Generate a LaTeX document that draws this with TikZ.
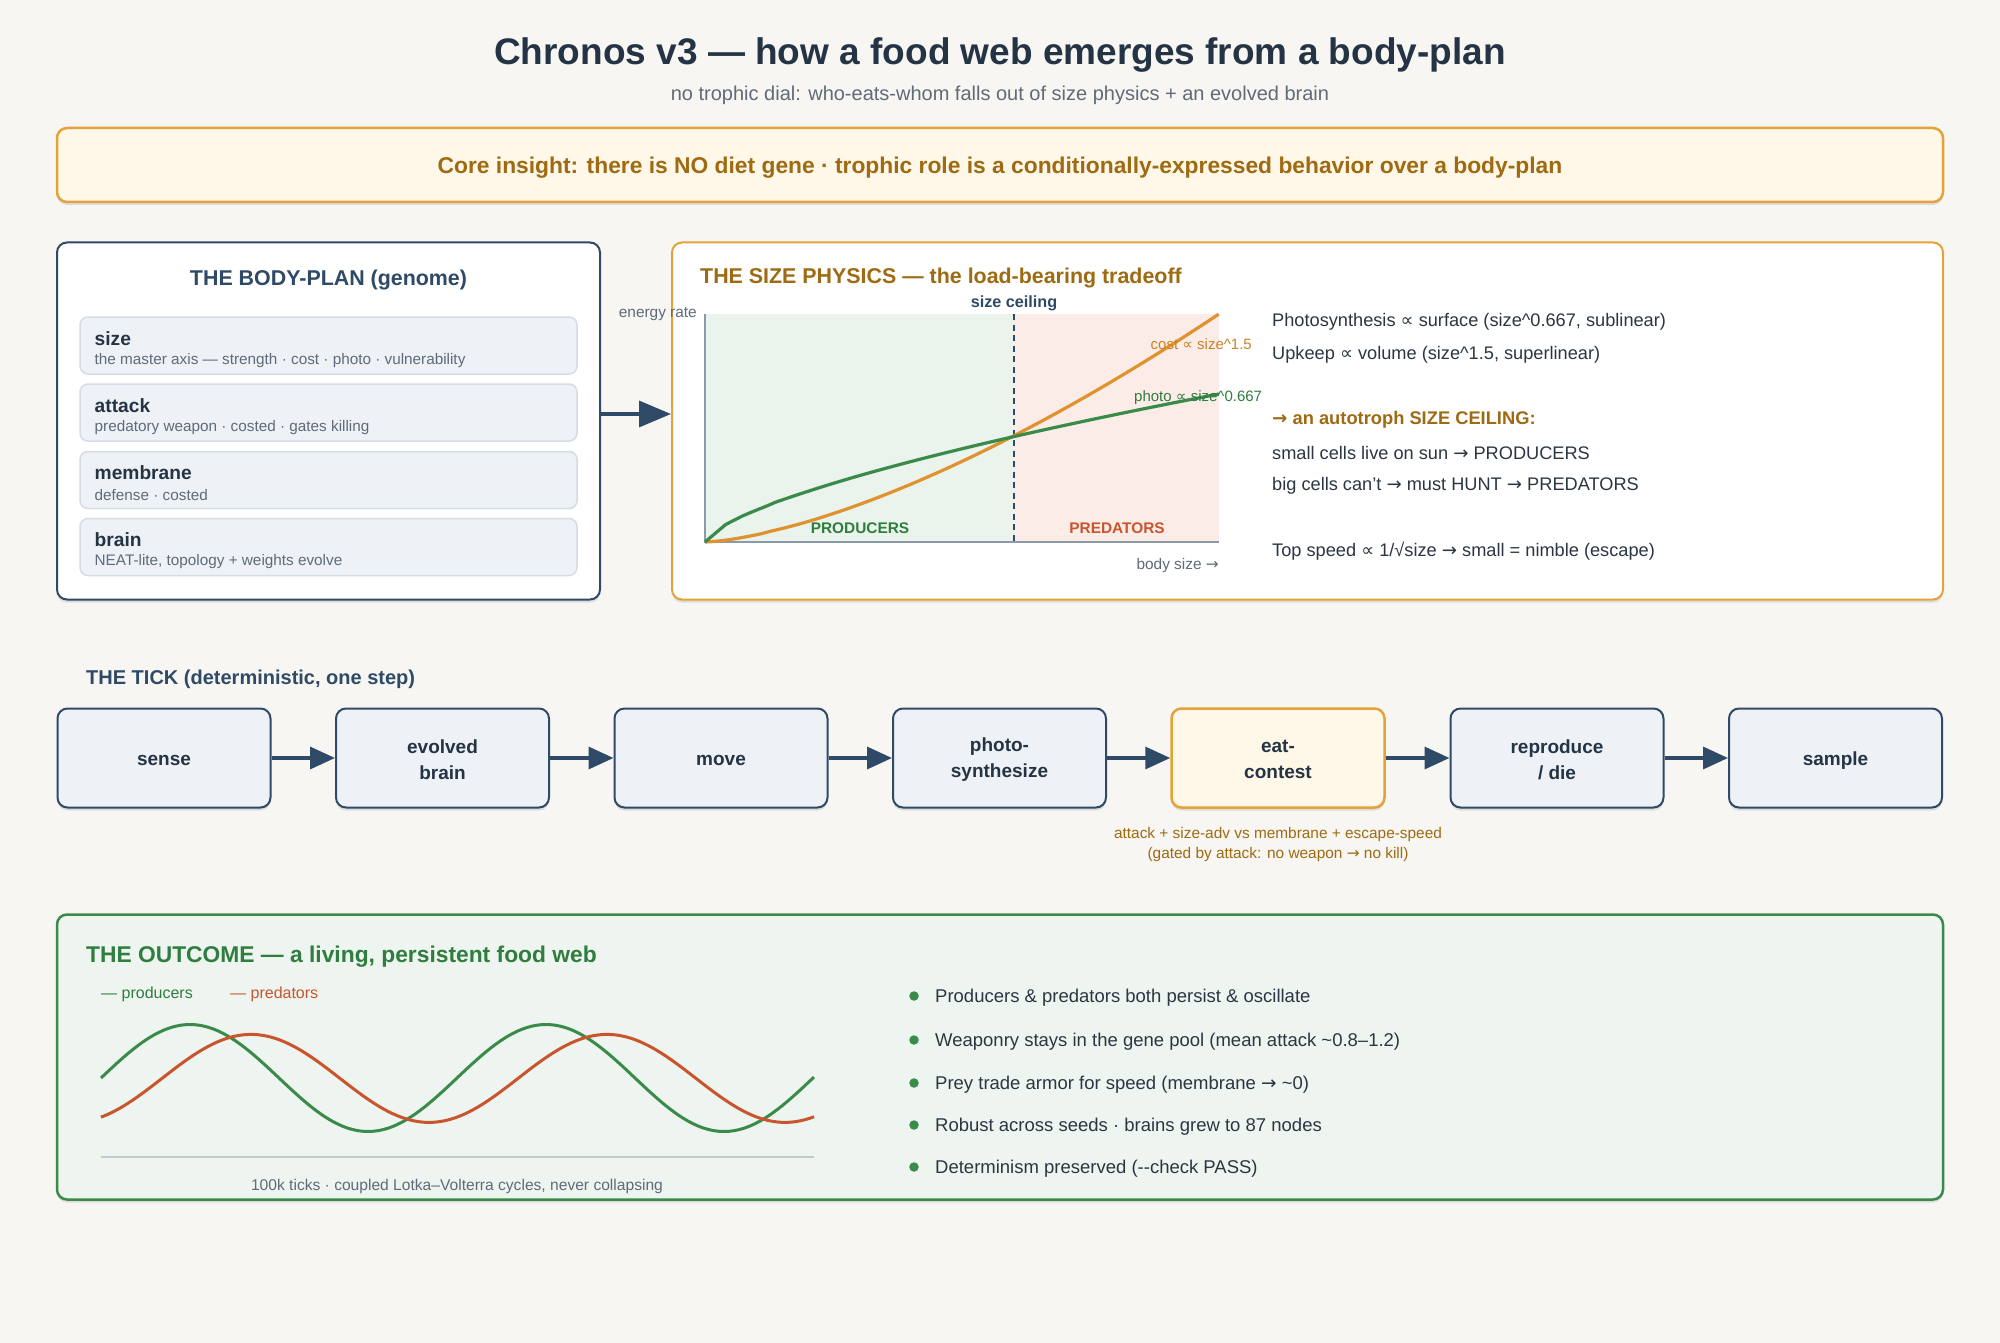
\documentclass[tikz,border=0pt]{standalone}
\usepackage{fontspec}
\setmainfont{Liberation Sans}
\newfontfamily\symf{DejaVu Sans}
\newcommand\ar{{\symf →}}
\usetikzlibrary{arrows.meta,shadows,calc}
\definecolor{bgc}{HTML}{F7F6F2}
\definecolor{ink}{HTML}{243444}
\definecolor{navy}{HTML}{2E4A66}
\definecolor{muted}{HTML}{5F6B78}
\definecolor{bodytx}{HTML}{2B3642}
\definecolor{orng}{HTML}{E3A23A}
\definecolor{ornt}{HTML}{9E6A12}
\definecolor{cream}{HTML}{FFF7E7}
\definecolor{grn}{HTML}{3A8A4A}
\definecolor{grnt}{HTML}{2F7D3F}
\definecolor{grnbg}{HTML}{EEF4EF}
\definecolor{predc}{HTML}{C8552D}
\definecolor{genef}{HTML}{EEF2F7}
\definecolor{gened}{HTML}{D4DCE6}
\definecolor{cgreen}{HTML}{EAF3EC}
\definecolor{cpink}{HTML}{FCECE7}
\definecolor{costc}{HTML}{E0922E}
\definecolor{costt}{HTML}{C98326}
\definecolor{axisc}{HTML}{8C99A8}
\definecolor{basec}{HTML}{C3C9D1}
\newcommand\fsz[2]{\fontsize{#1}{#2}\selectfont}
\begin{document}
\begin{tikzpicture}[x=1pt,y=-1pt,
  shad/.style={drop shadow={shadow xshift=0pt,shadow yshift=-3pt,opacity=0.10,fill=black}},
  panel/.style={draw=navy,line width=2pt,rounded corners=10pt,fill=white,shad,inner sep=0pt},
  gene/.style={draw=gened,line width=1.5pt,rounded corners=8pt,fill=genef,minimum width=497pt,minimum height=57pt,inner sep=0pt},
  glab/.style={anchor=west,font=\fsz{19.2}{23}\bfseries,text=ink,inner sep=0pt},
  gsub/.style={anchor=west,font=\fsz{15.3}{18},text=muted,inner sep=0pt},
  ticknode/.style={draw=navy,line width=2pt,rounded corners=10pt,fill=genef,minimum width=213pt,minimum height=99pt,shad,inner sep=0pt},
  ticklab/.style={align=center,font=\fsz{19}{26}\bfseries,text=ink,inner sep=0pt},
  tarrow/.style={draw=navy,line width=3.5pt,-{Triangle[length=25pt,width=22pt]}},
  barrow/.style={draw=navy,line width=3.5pt,-{Triangle[length=32pt,width=26pt]}},
  rtext/.style={anchor=west,font=\fsz{18.2}{22},text=bodytx,inner sep=0pt},
  btext/.style={anchor=west,font=\fsz{18.5}{22},text=bodytx,inner sep=0pt},
  bdot/.style={circle,fill=grn,inner sep=0pt,minimum size=9.5pt},
  small/.style={font=\fsz{15.4}{18},inner sep=0pt}
]
\useasboundingbox (0,0) rectangle (2000,1343);
\fill[bgc] (0,0) rectangle (2000,1343);

% ---- title
\node[font=\fsz{37}{42}\bfseries,text=ink] (title) at (1000,55) {Chronos v3 — how a food web emerges from a body-plan};
\node[font=\fsz{20}{24},text=muted] (subtitle) at (1000,95.5) {no trophic dial: who-eats-whom falls out of size physics + an evolved brain};

\node[draw=orng,line width=2.5pt,rounded corners=10pt,fill=cream,shad,minimum width=1886pt,minimum height=74pt,inner sep=0pt] (insight) at (1000,165) {};
\node[font=\fsz{22.8}{26}\bfseries,text=ornt,inner sep=0pt] (insightt) at (1000,167.5) {Core insight: there is NO diet gene · trophic role is a conditionally-expressed behavior over a body-plan};

% ---- body-plan panel
\node[panel,minimum width=543pt,minimum height=357pt] (body) at (328.5,421) {};
\node[font=\fsz{21.4}{25}\bfseries,text=navy,inner sep=0pt] (bodyt) at (328.5,280.5) {THE BODY-PLAN (genome)};
\node[gene] (g1) at (328.5,345.5) {};
\node[gene] (g2) at (328.5,412.5) {};
\node[gene] (g3) at (328.5,480) {};
\node[gene] (g4) at (328.5,547) {};
\node[glab] (g1l) at (94.5,339) {size};
\node[gsub] (g1s) at (94.5,361) {the master axis — strength · cost · photo · vulnerability};
\node[glab] (g2l) at (94.5,406) {attack};
\node[gsub] (g2s) at (94.5,428) {predatory weapon · costed · gates killing};
\node[glab] (g3l) at (94.5,473) {membrane};
\node[gsub] (g3s) at (94.5,495) {defense · costed};
\node[glab] (g4l) at (94.5,540) {brain};
\node[gsub] (g4s) at (94.5,562) {NEAT-lite, topology + weights evolve};

% ---- size physics panel
\node[panel,draw=orng,minimum width=1271pt,minimum height=357pt] (phys) at (1307.5,421) {};
\draw[barrow] ([yshift=7pt]body.east) -- ([yshift=7pt]phys.west);
\node[anchor=west,font=\fsz{21.4}{25}\bfseries,text=ornt,inner sep=0pt] (physt) at (700,278) {THE SIZE PHYSICS — the load-bearing tradeoff};

% chart
\fill[cgreen] (705,314) rectangle (1014,542);
\fill[cpink] (1014,314) rectangle (1219,542);
\draw[axisc,line width=1.6pt] (705,314) -- (705,542) -- (1219,542);
\draw[navy,line width=2pt,dash pattern=on 6pt off 4.5pt] (1014,314) -- (1014,542);
\draw[costc,line width=3.2pt,line join=round] (705,542) -- plot[domain=0.01:1,samples=60] ({705+514*\x},{542-228*\x^1.5});
\draw[grn,line width=3.2pt,line join=round] (705,542) -- (718,531) -- plot[domain=0.04:1,samples=60] ({705+514*\x},{542-148*\x^0.667});
\node[small,anchor=east,text=muted] (ylab) at (697,314) {energy rate};
\node[font=\fsz{16.2}{19}\bfseries,text=navy,inner sep=0pt] (ceil) at (1014,303) {size ceiling};
\node[small,anchor=east,text=muted] (xlab) at (1219,566) {body size \ar};
\node[font=\fsz{15.4}{18}\bfseries,text=grnt,inner sep=0pt] (prodl) at (860,528) {PRODUCERS};
\node[font=\fsz{15.4}{18}\bfseries,text=predc,inner sep=0pt] (predl) at (1117,528) {PREDATORS};
\node[small,font=\fsz{15}{18},anchor=east,text=costt] (costl) at (1252,344) {cost {\symf ∝} size\^{}1.5};
\node[small,font=\fsz{15}{18},anchor=west,text=grnt] (photl) at (1134,398) {photo {\symf ∝} size\^{}0.667};

% right text
\node[rtext] (r1) at (1272,322) {Photosynthesis {\symf ∝} surface (size\^{}0.667, sublinear)};
\node[rtext] (r2) at (1272,355) {Upkeep {\symf ∝} volume (size\^{}1.5, superlinear)};
\node[rtext,font=\fsz{18.3}{22}\bfseries,text=ornt] (r3) at (1272,420) {\ar{} an autotroph SIZE CEILING:};
\node[rtext] (r4) at (1272,453) {small cells live on sun \ar{} PRODUCERS};
\node[rtext] (r5) at (1272,486) {big cells can't \ar{} must HUNT \ar{} PREDATORS};
\node[rtext] (r6) at (1272,551) {Top speed {\symf ∝} 1/√size \ar{} small = nimble (escape)};

% ---- the tick
\node[anchor=west,font=\fsz{20}{24}\bfseries,text=navy,inner sep=0pt] (tickt) at (86,679) {THE TICK (deterministic, one step)};
\node[ticknode] (t1) at (164,758) {};
\node[ticknode] (t2) at (442.5,758) {};
\node[ticknode] (t3) at (721,758) {};
\node[ticknode] (t4) at (999.5,758) {};
\node[ticknode,draw=orng,fill=cream,line width=2.5pt] (t5) at (1278,758) {};
\node[ticknode] (t6) at (1557,758) {};
\node[ticknode] (t7) at (1835.5,758) {};
\node[ticklab] (t1l) at ([yshift=-2.5pt]t1.center) {sense};
\node[ticklab] (t2l) at ([yshift=-1.5pt]t2.center) {evolved\\brain};
\node[ticklab] (t3l) at ([yshift=-2.5pt]t3.center) {move};
\node[ticklab] (t4l) at ([yshift=-1.5pt]t4.center) {photo-\\synthesize};
\node[ticklab] (t5l) at ([yshift=-1.5pt]t5.center) {eat-\\contest};
\node[ticklab] (t6l) at ([yshift=-1.5pt]t6.center) {reproduce\\/ die};
\node[ticklab] (t7l) at ([yshift=-2.5pt]t7.center) {sample};
\draw[tarrow] (t1.east) -- (t2.west);
\draw[tarrow] (t2.east) -- (t3.west);
\draw[tarrow] (t3.east) -- (t4.west);
\draw[tarrow] (t4.east) -- (t5.west);
\draw[tarrow] (t5.east) -- (t6.west);
\draw[tarrow] (t6.east) -- (t7.west);
\node[font=\fsz{15.4}{20},text=ornt,align=center,inner sep=0pt] (ann) at (1278,844.5) {attack + size-adv vs membrane + escape-speed\\(gated by attack: no weapon \ar{} no kill)};

% ---- outcome
\node[draw=grn,line width=2.5pt,rounded corners=10pt,fill=grnbg,shad,minimum width=1886pt,minimum height=285pt,inner sep=0pt] (out) at (1000,1057) {};
\node[anchor=west,font=\fsz{22.8}{26}\bfseries,text=grnt,inner sep=0pt] (outt) at (86,957) {THE OUTCOME — a living, persistent food web};
\node[small,font=\fsz{16}{19},anchor=west,text=grnt] (legp) at (101,994) {— producers};
\node[small,font=\fsz{16}{19},anchor=west,text=predc] (legr) at (230,994) {— predators};
\draw[basec,line width=1.5pt] (101,1157) -- (814,1157);
\draw[grn,line width=3pt] plot[domain=101:814,samples=160] (\x,{1078-53.5*sin((\x-101)/356*360)});
\draw[predc,line width=3pt] plot[domain=101:814,samples=160] (\x,{1078.4-44*sin((\x-162)/356*360)});
\node[small,font=\fsz{15.6}{18},text=muted] (cap) at (457,1186) {100k ticks · coupled Lotka–Volterra cycles, never collapsing};

\node[bdot] (d1) at (914,996) {};
\node[bdot] (d2) at (914,1040) {};
\node[bdot] (d3) at (914,1083) {};
\node[bdot] (d4) at (914,1125) {};
\node[bdot] (d5) at (914,1167) {};
\node[btext] (b1) at (935,998) {Producers \& predators both persist \& oscillate};
\node[btext] (b2) at (935,1042) {Weaponry stays in the gene pool (mean attack \textasciitilde0.8–1.2)};
\node[btext] (b3) at (935,1085) {Prey trade armor for speed (membrane \ar{} \textasciitilde0)};
\node[btext] (b4) at (935,1127) {Robust across seeds · brains grew to 87 nodes};
\node[btext] (b5) at (935,1169) {Determinism preserved (-{}-check PASS)};
\end{tikzpicture}
\end{document}
